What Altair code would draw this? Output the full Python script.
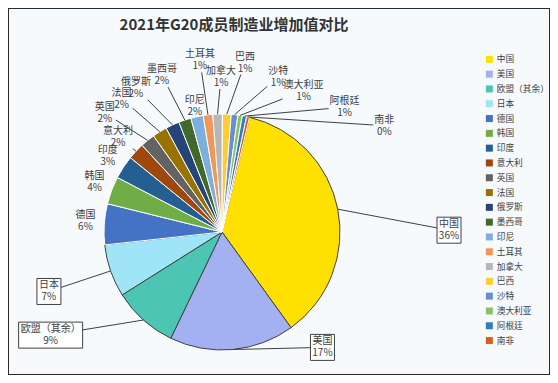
import altair as alt
import pandas as pd

TITLE = "2021年G20成员制造业增加值对比"
countries = ["中国", "美国", "欧盟（其余）", "日本", "德国", "韩国", "印度", "意大利", "英国", "法国",
             "俄罗斯", "墨西哥", "印尼", "土耳其", "加拿大", "巴西", "沙特", "澳大利亚", "阿根廷", "南非"]
shares = [36.3, 17.1, 8.9, 7.2, 5.6, 3.8, 3.2, 2.3, 2.0, 2.0,
          1.9, 1.7, 1.7, 1.3, 1.3, 1.2, 0.9, 0.6, 0.6, 0.4]
palette = ["#FFE000", "#A3B1F3", "#4CC5B2", "#A0E5F7", "#4472C4", "#70AD47", "#255E91", "#9E480E",
           "#636363", "#997300", "#264478", "#43682B", "#7CAFDD", "#F1975A", "#B7B7B7", "#FFCD33",
           "#698ED0", "#8CC168", "#327DC2", "#D0631B"]

# data-label placement (like Excel's dragged labels): angular shift from the slice middle (deg), distance from centre (px)
label_shift = [10.7, -36.0, 17.2, 0.3, 1.0, 0.8, 0.2, -0.7, -5.5, -5.1, -6.0, -2.6, 0.1, -0.5, 1.8, 5.4, 13.8, 21.2, 33.5, 44.0]
label_dist = [227, 153, 200, 183, 137, 137, 137, 141, 167, 167, 168, 168, 129, 173, 155, 171, 165, 163, 175, 194]

W, H = 542, 367
CX, CY, R = 214, 224, 118
START = 13.5
FONT = "Noto Sans CJK SC"
FS = 10
INK = "#404040"

df = pd.DataFrame({"idx": list(range(len(countries))), "name": countries, "share": shares,
                   "shift": label_shift, "dist": label_dist})

xs = alt.Scale(domain=[-CX, W - CX], nice=False, zero=False)
ys = alt.Scale(domain=[-CY, H - CY], nice=False, zero=False, reverse=True)

base = (
    alt.Chart(df)
    .transform_window(cum="sum(share)", sort=[alt.SortField("idx")])
    .transform_joinaggregate(total="sum(share)")
    .transform_calculate(a0=f"{START}*PI/180 + 2*PI*(datum.cum - datum.share)/datum.total")
    .transform_calculate(a1=f"{START}*PI/180 + 2*PI*datum.cum/datum.total")
    .transform_calculate(mid="(datum.a0 + datum.a1)/2")
    .transform_calculate(la="datum.mid + datum.shift*PI/180")
    .transform_calculate(ex=f"{R}*sin(datum.mid)")
    .transform_calculate(ey=f"-{R}*cos(datum.mid)")
    .transform_calculate(zero="0")
    .transform_calculate(pct="format(datum.share/datum.total, '.0%')")
    .transform_calculate(lx="datum.dist*sin(datum.la)")
    .transform_calculate(ly="-datum.dist*cos(datum.la)")
    .transform_calculate(label="datum.name + '\\n' + datum.pct")
    .transform_calculate(hw=f"max(length(datum.name)*{FS}, length(datum.pct)*{FS}*0.62)/2 + (datum.idx < 4 ? 2 : 1)")
    .transform_calculate(hh="datum.idx < 4 ? 13 : 12")
    .transform_calculate(ddx="datum.ex - datum.lx")
    .transform_calculate(ddy="datum.ey - datum.ly")
    .transform_calculate(t="min(datum.hw/max(abs(datum.ddx), 0.001), datum.hh/max(abs(datum.ddy), 0.001))")
    .transform_calculate(endx="datum.lx + datum.t*datum.ddx")
    .transform_calculate(endy="datum.ly + datum.t*datum.ddy")
    .transform_calculate(bx0="datum.lx - datum.hw")
    .transform_calculate(bx1="datum.lx + datum.hw")
    .transform_calculate(by0="datum.ly - datum.hh")
    .transform_calculate(by1="datum.ly + datum.hh")
)

arcs = base.mark_arc(radius=R, strokeWidth=1).encode(
    x=alt.X("zero:Q", scale=xs, axis=None),
    y=alt.Y("zero:Q", scale=ys, axis=None),
    theta=alt.Theta("a0:Q", scale=None, stack=False),
    theta2="a1:Q",
    color=alt.Color(
        "name:N",
        scale=alt.Scale(domain=countries, range=palette),
        sort=countries,
        legend=alt.Legend(
            title=None, orient="none", legendX=477, legendY=47, direction="vertical",
            symbolType="square", symbolSize=49, symbolStrokeWidth=0,
            labelFont=FONT, labelFontSize=8.7, labelColor=INK, labelOffset=3, labelLimit=80,
            rowPadding=4.8, padding=0,
        ),
    ),
    stroke=alt.condition("datum.idx < 4", alt.value(INK), alt.value("#ffffff")),
)

rules = base.transform_filter("datum.dist > 139").mark_rule(color=INK, strokeWidth=1).encode(
    x=alt.X("ex:Q", scale=xs, axis=None),
    y=alt.Y("ey:Q", scale=ys, axis=None),
    x2="endx:Q",
    y2="endy:Q",
)

boxes = base.transform_filter("datum.idx < 4").mark_rect(fill="#ffffff", stroke=INK, strokeWidth=1).encode(
    x=alt.X("bx0:Q", scale=xs, axis=None),
    x2="bx1:Q",
    y=alt.Y("by0:Q", scale=ys, axis=None),
    y2="by1:Q",
)

texts = base.mark_text(font=FONT, fontSize=FS, color=INK, lineBreak="\n", lineHeight=12,
                       align="center", baseline="middle", dy=-6).encode(
    x=alt.X("lx:Q", scale=xs, axis=None),
    y=alt.Y("ly:Q", scale=ys, axis=None),
    text="label:N",
)

chart = (
    alt.layer(arcs, rules, boxes, texts)
    .properties(
        width=W, height=H, padding=0,
        autosize=alt.AutoSizeParams(type="none"),
        title=alt.TitleParams(TITLE, font=FONT, fontSize=15, fontWeight="bold", color="#333333",
                              anchor="middle", dx=-45, dy=32, offset=0, baseline="middle"),
    )
    .configure(background="#f6fafd")
    .configure_view(stroke="#2a2a2a", strokeWidth=2)
)

chart.save("out.html", embed_options={"renderer": "svg", "actions": False})
